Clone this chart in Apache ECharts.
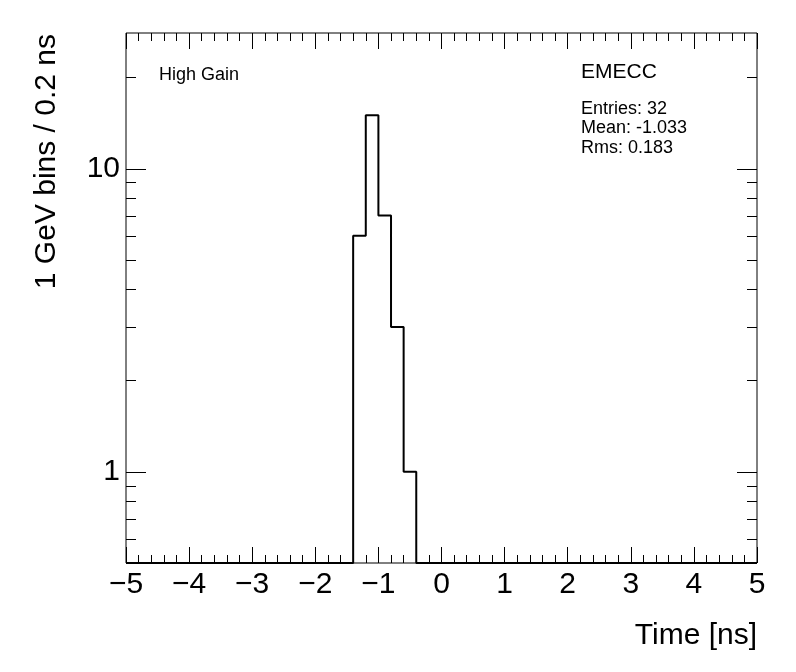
<!DOCTYPE html>
<html>
<head>
<meta charset="utf-8">
<script src="https://cdn.jsdelivr.net/npm/echarts@6/dist/echarts.min.js"></script>
<style>
  html, body { margin: 0; padding: 0; background: #fff; }
  #main { width: 796px; height: 672px; }
</style>
</head>
<body>
<div id="main"></div>
<script>
// histogram: 0.2 ns bins from -5 to 5, only non-empty bins listed
const xRange = [-5, 5];
const binWidth = 0.2;
const binStarts = [-1.4, -1.2, -1.0, -0.8, -0.6];
const binCounts = [6, 15, 7, 3, 1];
const yRange = [0.5, 28];
const yMajorTicks = [1, 10];
const yMinorTicks = [0.6, 0.7, 0.8, 0.9, 2, 3, 4, 5, 6, 7, 8, 9, 20];
const statLines = ['Entries: 32', 'Mean: -1.033', 'Rms: 0.183'];

const FONT = 'Liberation Sans';

// empty bins sit on the bottom of the log frame
function histPoints() {
  const floor = yRange[0];
  const pts = [[xRange[0], floor]];
  binStarts.forEach((x, i) => pts.push([x, Math.max(binCounts[i], floor)]));
  const lastEdge = binStarts[binStarts.length - 1] + binWidth;
  pts.push([+lastEdge.toFixed(4), floor]);
  pts.push([xRange[1], floor]);
  return pts;
}

const xAxisBase = {
  type: 'value',
  min: xRange[0],
  max: xRange[1],
  interval: 1,
  axisLine: { show: false },
  splitLine: { show: false },
  axisTick: { show: true, inside: true, length: 16, lineStyle: { color: '#000', width: 1 } },
  minorTick: { show: true, splitNumber: 5, length: 8, lineStyle: { color: '#000', width: 1 } }
};

const yAxisBase = {
  type: 'log',
  logBase: 10,
  min: yRange[0],
  max: yRange[1],
  axisLine: { show: false },
  splitLine: { show: false },
  axisTick: { show: false },
  minorTick: { show: false }
};

const chart = echarts.init(document.getElementById('main'));
const option = {
  animation: false,
  backgroundColor: '#fff',
  grid: {
    left: 126, right: 39, top: 33, bottom: 109,
    show: true, borderColor: '#000', borderWidth: 1, backgroundColor: 'transparent'
  },
  xAxis: [
    Object.assign({}, xAxisBase, {
      position: 'bottom',
      axisLabel: {
        show: true, margin: 7, color: '#000', fontSize: 30, fontFamily: FONT,
        formatter: (v) => String(v).replace('-', '\u2212')
      }
    }),
    Object.assign({}, xAxisBase, { position: 'top', axisLabel: { show: false } })
  ],
  yAxis: [
    Object.assign({}, yAxisBase, {
      position: 'left',
      axisLabel: {
        show: true, margin: 6, color: '#000', fontSize: 30, fontFamily: FONT,
        showMinLabel: false, showMaxLabel: false,
        formatter: (v) => {
          const l = Math.log10(v);
          return Math.abs(l - Math.round(l)) < 1e-6 ? String(Math.round(v)) : '';
        }
      }
    }),
    Object.assign({}, yAxisBase, { position: 'right', axisLabel: { show: false } })
  ],
  series: [{
    type: 'line',
    step: 'end',
    data: histPoints(),
    symbol: 'none',
    clip: false,
    lineStyle: { color: '#000', width: 2 }
  }]
};
chart.setOption(option);

// y ticks on both sides of the frame, placed through the log axis
const graphics = [];
const xl = chart.convertToPixel({ xAxisIndex: 0 }, xRange[0]);
const xr = chart.convertToPixel({ xAxisIndex: 0 }, xRange[1]);
function addTick(v, len) {
  const y = Math.round(chart.convertToPixel({ yAxisIndex: 0 }, v)) + 0.5;
  graphics.push({ type: 'line', silent: true, shape: { x1: xl, y1: y, x2: xl + len, y2: y }, style: { stroke: '#000', lineWidth: 1 } });
  graphics.push({ type: 'line', silent: true, shape: { x1: xr, y1: y, x2: xr - len, y2: y }, style: { stroke: '#000', lineWidth: 1 } });
}
yMajorTicks.forEach((v) => addTick(v, 20));
yMinorTicks.forEach((v) => addTick(v, 10));

const txt = (x, y, text, size, extra) => Object.assign({
  type: 'text', left: x, top: y, silent: true,
  style: { text: text, fill: '#000', font: size + 'px "' + FONT + '"' }
}, extra || {});

graphics.push(txt(159, 66, 'High Gain', 18));
graphics.push(txt(581, 62, 'EMECC', 21));
statLines.forEach((s, i) => graphics.push(txt(581, 100 + i * 19.5, s, 18)));

graphics.push({
  type: 'text', silent: true, x: 757, y: 636,
  style: { text: 'Time [ns]', fill: '#000', font: '30px "' + FONT + '"', textAlign: 'right', textVerticalAlign: 'middle' }
});
graphics.push({
  type: 'text', silent: true, x: 47, y: 34, rotation: Math.PI / 2,
  style: { text: '1 GeV bins / 0.2 ns', fill: '#000', font: '30px "' + FONT + '"', textAlign: 'right', textVerticalAlign: 'middle' }
});

chart.setOption({ graphic: graphics });
</script>
</body>
</html>
